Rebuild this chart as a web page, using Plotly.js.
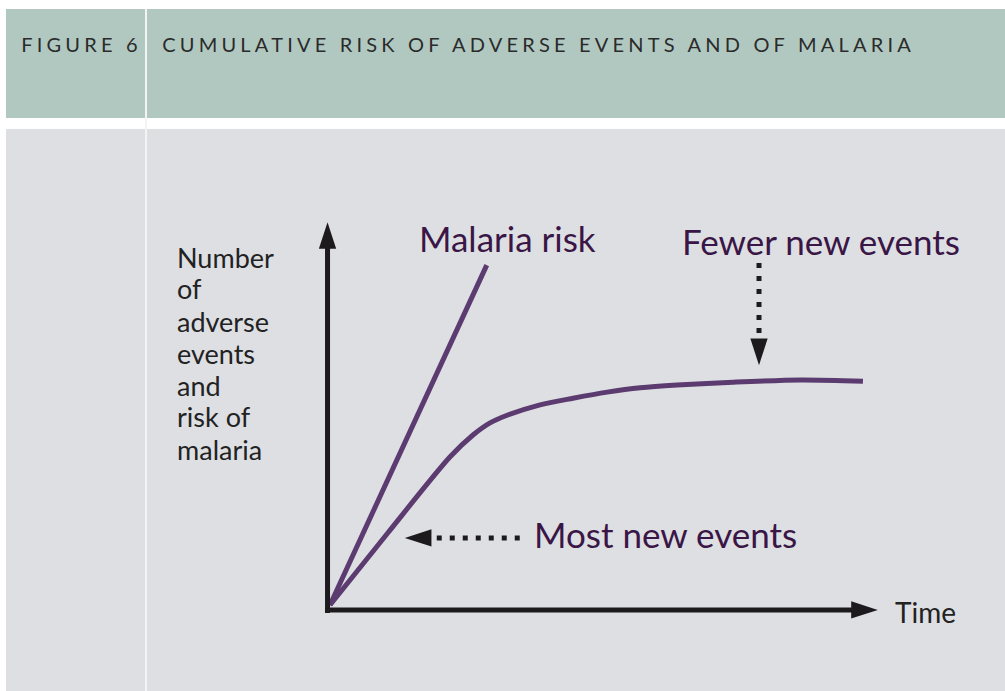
<!DOCTYPE html>
<html><head><meta charset="utf-8">
<script src="https://cdn.plot.ly/plotly-3.0.1.min.js"></script>
<style>
html,body{margin:0;padding:0;background:#fff;}
#chart{width:1005px;height:691px;}
.annotation[data-index="0"] text, .annotation[data-index="1"] text {letter-spacing:4.2px;}
</style>
</head><body><div id="chart"></div>
<script>
// ---- data (schematic values) ----
const malariaTime = [0, 2.85];
const malariaRisk = [0, 6.18];
const eventsTime  = [0, 1.05, 2.18, 2.60, 2.91, 3.22, 3.82, 4.42, 5.04, 5.64, 6.31, 7.33, 8.55, 9.69];
const eventsCount = [0, 1.31, 2.69, 3.09, 3.31, 3.45, 3.64, 3.76, 3.87, 3.95, 4.00, 4.05, 4.09, 4.07];
const figureLabel = "FIGURE 6";
const figureTitle = "CUMULATIVE RISK OF ADVERSE EVENTS AND OF MALARIA";
const yLabelLines = ["Number", "of", "adverse", "events", "and", "risk of", "malaria"];
const xLabel = "Time";
const seriesLabels = ["Malaria risk", "Fewer new events", "Most new events"];

// ---- styling / layout ----
const W = 1005, H = 691;
const px = x => x / W, py = y => 1 - y / H;
const PURPLE = "#5c3c70", TEXTPURPLE = "#3a1646", BLACK = "#1c1a1d";
const FONT = "Lato, 'Open Sans', sans-serif";
const ARROW = 28;

const traces = [
  {x: malariaTime, y: malariaRisk, mode: "lines", line: {color: PURPLE, width: 5}},
  {x: eventsTime, y: eventsCount, mode: "lines", line: {color: PURPLE, width: 5, shape: "spline", smoothing: 0.8}},
  // axes (drawn as arrows)
  {x: [-0.045, -0.045], y: [-0.145, 6.6], mode: "lines", line: {color: BLACK, width: 5}},
  {x: [-0.045], y: [6.96], mode: "markers", marker: {symbol: "arrow", size: ARROW, angle: 0, color: BLACK}},
  {x: [-0.09, 9.6], y: [-0.09, -0.09], mode: "lines", line: {color: BLACK, width: 5}},
  {x: [9.96], y: [-0.09], mode: "markers", marker: {symbol: "arrow", size: ARROW, angle: 90, color: BLACK}},
  // "Most new events" dotted pointer
  {x: [3.45, 1.93], y: [1.22, 1.22], mode: "lines", line: {color: BLACK, width: 5, dash: "5px,8px"}},
  {x: [1.36], y: [1.22], mode: "markers", marker: {symbol: "arrow", size: ARROW, angle: 270, color: BLACK}},
  // "Fewer new events" dotted pointer
  {x: [7.8, 7.8], y: [6.22, 4.93], mode: "lines", line: {color: BLACK, width: 5, dash: "5px,8px"}},
  {x: [7.8], y: [4.36], mode: "markers", marker: {symbol: "arrow", size: ARROW, angle: 180, color: BLACK}}
];
traces.forEach(t => { t.hoverinfo = "skip"; t.showlegend = false; t.cliponaxis = false; });

const annotations = [
  {text: figureLabel, x: px(81), y: py(44), xanchor: "center", yanchor: "middle",
   font: {family: FONT, size: 20, color: "#2b2b2b"}},
  {text: figureTitle, x: px(538.5), y: py(44), xanchor: "center", yanchor: "middle",
   font: {family: FONT, size: 20, color: "#2b2b2b"}},
  {text: seriesLabels[0], x: px(417), y: py(238), xanchor: "left", yanchor: "middle",
   font: {family: FONT, size: 35, color: TEXTPURPLE}},
  {text: seriesLabels[1], x: px(680), y: py(241), xanchor: "left", yanchor: "middle",
   font: {family: FONT, size: 35, color: TEXTPURPLE}},
  {text: seriesLabels[2], x: px(532), y: py(534), xanchor: "left", yanchor: "middle",
   font: {family: FONT, size: 35, color: TEXTPURPLE}},
  {text: xLabel, x: px(893), y: py(612), xanchor: "left", yanchor: "middle",
   font: {family: FONT, size: 28, color: "#222"}}
];
yLabelLines.forEach((line, i) => {
  annotations.push({text: line, x: px(176), y: py(257 + 32 * i), xanchor: "left", yanchor: "middle",
    font: {family: FONT, size: 27, color: "#222"}, borderpad: 0});
});
annotations.forEach(a => { a.xref = "paper"; a.yref = "paper"; a.showarrow = false; });

const shapes = [
  {type: "rect", x0: px(6), x1: px(1005), y0: py(9), y1: py(118), fillcolor: "#b1c8c0", line: {width: 0}},
  {type: "rect", x0: px(6), x1: px(1005), y0: py(129), y1: py(691), fillcolor: "#dedfe3", line: {width: 0}},
  {type: "line", x0: px(146), x1: px(146), y0: py(9), y1: py(691), line: {color: "#f4f4f4", width: 2}}
];
shapes.forEach(s => { s.xref = "paper"; s.yref = "paper"; s.layer = "below"; });

// 55 px per data unit on both axes; data origin at pixel (330, 605)
const layout = {
  width: W, height: H,
  margin: {l: 0, r: 0, t: 0, b: 0},
  paper_bgcolor: "#ffffff", plot_bgcolor: "rgba(0,0,0,0)",
  xaxis: {domain: [313.5 / W, 891 / W], range: [-0.3, 10.2], visible: false, fixedrange: true},
  yaxis: {domain: [69.5 / H, 476.5 / H], range: [-0.3, 7.1], visible: false, fixedrange: true},
  showlegend: false, hovermode: false,
  annotations, shapes
};
Plotly.newPlot("chart", traces, layout, {staticPlot: true, displayModeBar: false});
</script>
</body></html>
